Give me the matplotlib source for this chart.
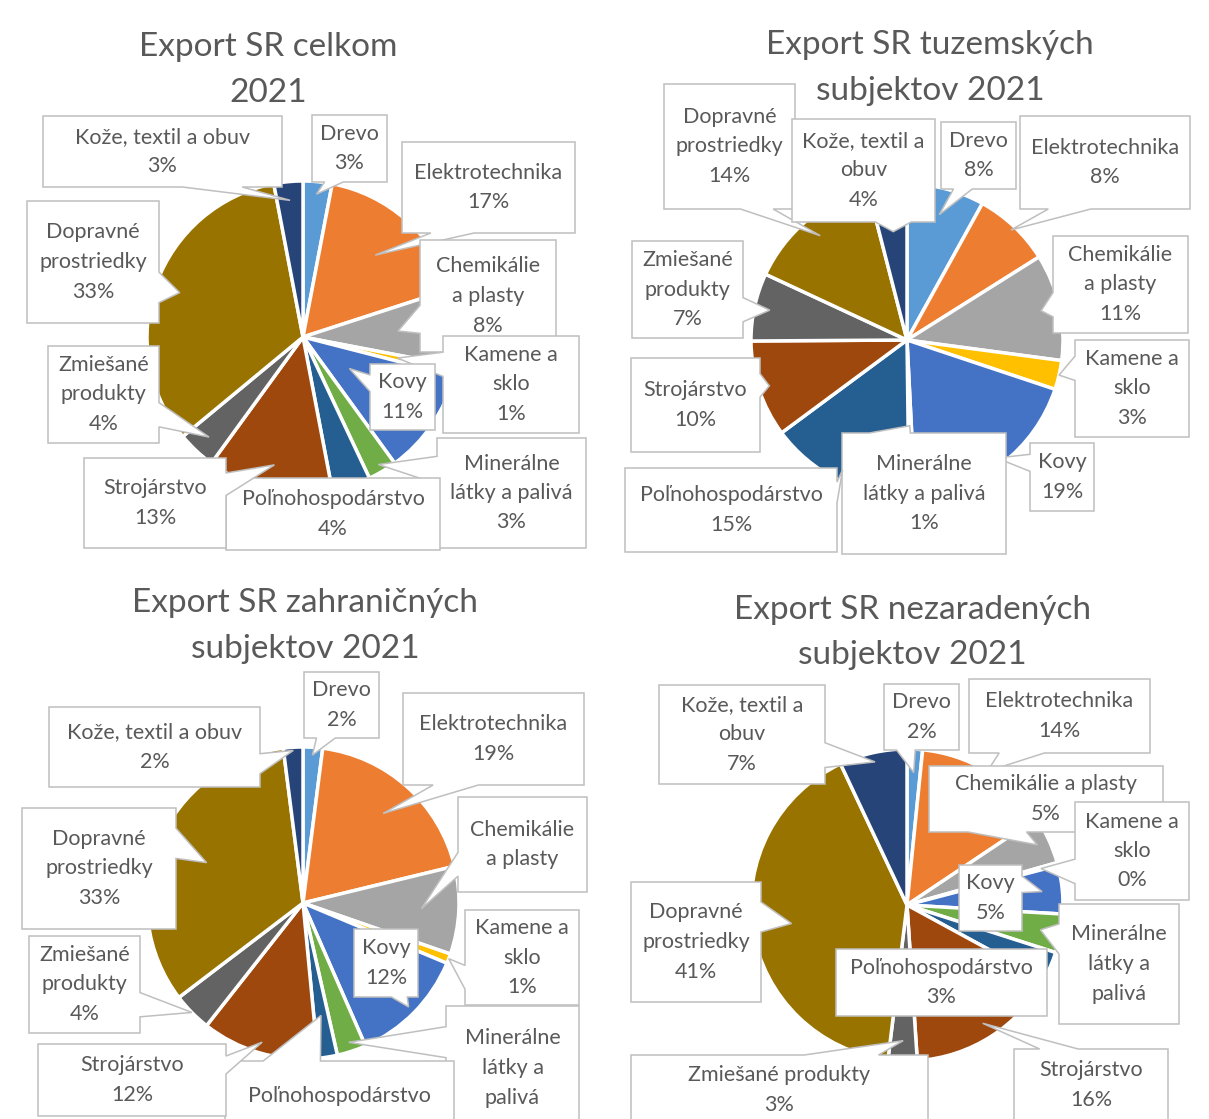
import numpy as np
import matplotlib.pyplot as plt
from matplotlib.patches import Polygon

W, H = 1209, 1119
R = 156          # polomer kolaca v px
LH = 29.5        # riadkovanie popisov v px
TLH = 45.5       # riadkovanie nadpisov v px
TXT = "#595959"
EDGE = "#BFBFBF"

plt.rcParams["font.family"] = ["Lato", "DejaVu Sans"]

categories = ["Drevo", "Elektrotechnika", "Chemikálie a plasty", "Kamene a sklo", "Kovy",
              "Minerálne látky a palivá", "Poľnohospodárstvo", "Strojárstvo",
              "Zmiešané produkty", "Dopravné prostriedky", "Kože, textil a obuv"]
colors = ["#5B9BD5", "#ED7D31", "#A5A5A5", "#FFC000", "#4472C4", "#70AD47",
          "#255E91", "#9E480E", "#636363", "#997300", "#264478"]

# podiely v %
celkom = [3, 17, 8, 1, 11, 3, 4, 13, 4, 33, 3]
tuzemske = [8, 8, 11, 3, 19, 0.6, 15, 10, 7, 14, 4]
zahranicne = [2, 19, 9, 1, 12, 3, 2, 12, 4, 33, 2]
nezaradene = [1.6, 14, 5, 0.3, 5, 4, 3, 16, 3, 41, 7]

titles = [["Export SR celkom", "2021"],
          ["Export SR tuzemských", "subjektov 2021"],
          ["Export SR zahraničných", "subjektov 2021"],
          ["Export SR nezaradených", "subjektov 2021"]]

# zalomenie nazvov v popisoch
wrap_celkom = ["Drevo", "Elektrotechnika", "Chemikálie\na plasty", "Kamene a\nsklo", "Kovy",
               "Minerálne\nlátky a palivá", "Poľnohospodárstvo", "Strojárstvo",
               "Zmiešané\nprodukty", "Dopravné\nprostriedky", "Kože, textil a obuv"]
wrap_tuzemske = ["Drevo", "Elektrotechnika", "Chemikálie\na plasty", "Kamene a\nsklo", "Kovy",
                 "Minerálne\nlátky a palivá", "Poľnohospodárstvo", "Strojárstvo",
                 "Zmiešané\nprodukty", "Dopravné\nprostriedky", "Kože, textil a\nobuv"]
wrap_zahranicne = ["Drevo", "Elektrotechnika", "Chemikálie\na plasty", "Kamene a\nsklo", "Kovy",
                   "Minerálne\nlátky a\npalivá", "Poľnohospodárstvo", "Strojárstvo",
                   "Zmiešané\nprodukty", "Dopravné\nprostriedky", "Kože, textil a obuv"]
wrap_nezaradene = ["Drevo", "Elektrotechnika", "Chemikálie a plasty", "Kamene a\nsklo", "Kovy",
                   "Minerálne\nlátky a\npalivá", "Poľnohospodárstvo", "Strojárstvo",
                   "Zmiešané produkty", "Dopravné\nprostriedky", "Kože, textil a\nobuv"]

# rozlozenie (px, od laveho horneho rohu)
centers = [(303, 337), (907, 340), (303, 903), (907, 905)]
title_pos = [(268, 47), (930, 45), (305, 603), (912, 610)]

boxes_celkom = [(312, 115, 387, 182), (402, 142, 575, 233), (420, 240, 556, 352),
                (443, 336, 579, 433), (370, 364, 435, 430), (437, 438, 586, 548),
                (226, 478, 440, 550), (84, 458, 226, 548), (48, 346, 159, 443),
                (27, 201, 159, 323), (43, 116, 282, 187)]
boxes_tuzemske = [(941, 122, 1016, 189), (1020, 116, 1190, 209), (1053, 236, 1188, 333),
                  (1075, 340, 1189, 437), (1030, 443, 1094, 511), (842, 433, 1006, 554),
                  (625, 468, 837, 552), (631, 358, 760, 452), (632, 241, 743, 338),
                  (664, 84, 795, 209), (792, 119, 935, 222)]
boxes_zahranicne = [(304, 672, 379, 738), (403, 693, 584, 785), (458, 797, 587, 892),
                    (465, 910, 579, 1005), (354, 929, 418, 997), (446, 1006, 579, 1130),
                    (225, 1061, 454, 1131), (38, 1044, 226, 1116), (29, 936, 140, 1033),
                    (22, 808, 176, 929), (49, 707, 260, 787)]
boxes_nezaradene = [(884, 684, 959, 750), (969, 679, 1150, 753), (929, 766, 1163, 832),
                    (1075, 802, 1189, 900), (959, 865, 1022, 931), (1059, 904, 1179, 1024),
                    (836, 949, 1047, 1016), (1014, 1049, 1168, 1121), (631, 1055, 928, 1125),
                    (631, 882, 761, 1002), (659, 685, 825, 784)]

# kam smeruje hrot popisu (podiel polomeru)
tips_celkom = [0.92, 0.70, 0.61, 0.62, 0.36, 0.95, 0.98, 0.84, 0.88, 0.84, 0.88]
tips_tuzemske = [0.83, 0.97, 0.88, 1.0, 0.95, 0.55, 0.93, 0.93, 0.90, 0.87, 0.70]
tips_zahranicne = [0.95, 0.77, 0.76, 1.0, 0.95, 0.94, 0.73, 0.93, 1.0, 0.67, 0.98]
tips_nezaradene = [0.85, 1.0, 0.92, 0.89, 0.87, 0.87, 0.87, 0.9, 0.87, 0.75, 0.94]

# percenta, ktore su v popise orezane
hidden_pct = [set(), set(), {2, 5, 6}, {5}]


def callout(ax, box, tip, lines):
    x0, y0, x1, y1 = box
    w, h = x1 - x0, y1 - y0
    cx, cy = (x0 + x1) / 2, (y0 + y1) / 2
    tx, ty = tip
    dx, dy = tx - cx, ty - cy
    pts = [(x0, y0), (x1, y0), (x1, y1), (x0, y1)]
    if not (x0 < tx < x1 and y0 < ty < y1):
        if abs(dy) * w > abs(dx) * h:
            a, b = (7, 10) if dx > 0 else (2, 5)
            xa, xb = x0 + w * a / 12, x0 + w * b / 12
            if dy < 0:
                pts = [(x0, y0), (xa, y0), (tx, ty), (xb, y0), (x1, y0), (x1, y1), (x0, y1)]
            else:
                pts = [(x0, y0), (x1, y0), (x1, y1), (xb, y1), (tx, ty), (xa, y1), (x0, y1)]
        else:
            a, b = (7, 10) if dy > 0 else (2, 5)
            ya, yb = y0 + h * a / 12, y0 + h * b / 12
            if dx > 0:
                pts = [(x0, y0), (x1, y0), (x1, ya), (tx, ty), (x1, yb), (x1, y1), (x0, y1)]
            else:
                pts = [(x0, y0), (x1, y0), (x1, y1), (x0, y1), (x0, yb), (tx, ty), (x0, ya)]
    ax.add_patch(Polygon([(x, H - y) for x, y in pts], closed=True, fc="white",
                         ec=EDGE, lw=1.1, joinstyle="miter", zorder=3))
    n = len(lines)
    for i, s in enumerate(lines):
        y = cy + (i - (n - 1) / 2) * LH
        ax.text(cx, H - y, s, ha="center", va="center", fontsize=15.5,
                color=TXT, zorder=3)


fig = plt.figure(figsize=(W / 100, H / 100), dpi=100)
ax = fig.add_axes([0, 0, 1, 1])

charts = [(celkom, wrap_celkom, boxes_celkom, tips_celkom),
          (tuzemske, wrap_tuzemske, boxes_tuzemske, tips_tuzemske),
          (zahranicne, wrap_zahranicne, boxes_zahranicne, tips_zahranicne),
          (nezaradene, wrap_nezaradene, boxes_nezaradene, tips_nezaradene)]

for k, (vals, wraps, boxes, tips) in enumerate(charts):
    cx, cy = centers[k]
    vals = np.array(vals, dtype=float)
    ax.pie(vals, colors=colors, startangle=90, counterclock=False,
           center=(cx, H - cy), radius=R,
           wedgeprops=dict(edgecolor="white", linewidth=2.5))

    # nadpis
    tx, ty = title_pos[k]
    for j, line in enumerate(titles[k]):
        ax.text(tx, H - (ty + j * TLH), line, ha="center", va="center",
                fontsize=24, color=TXT)

    total = vals.sum()
    cum = np.cumsum(vals) - vals / 2
    for i in range(len(vals)):
        ang = np.radians(360 * cum[i] / total)
        tip = (cx + tips[i] * R * np.sin(ang), cy - tips[i] * R * np.cos(ang))
        lines = wraps[i].split("\n")
        if i not in hidden_pct[k]:
            lines.append(f"{round(100 * vals[i] / total):.0f}%")
        callout(ax, boxes[i], tip, lines)

ax.set_xlim(0, W)
ax.set_ylim(0, H)
ax.set_aspect("auto")
ax.axis("off")

fig.savefig("out.png", dpi=100, facecolor="white")
